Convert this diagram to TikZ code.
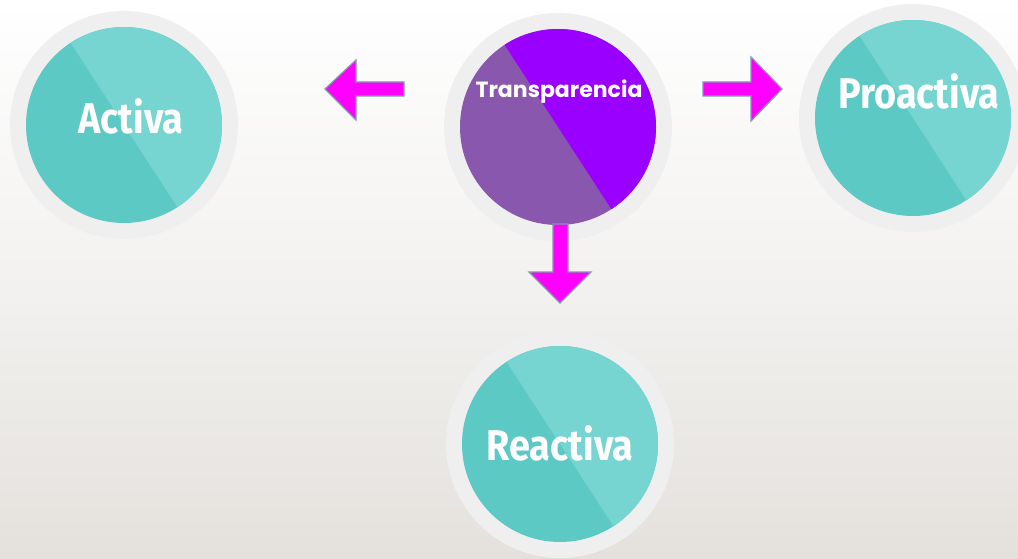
\documentclass[tikz,border=0pt]{standalone}
\usepackage{fontspec}
\newfontfamily\condfont[FakeStretch=0.88]{Fira Sans}
\newfontfamily\geofont{Poppins}
\definecolor{bgbot}{HTML}{E4E1DD}
\definecolor{ringc}{HTML}{EFEFEF}
\definecolor{tealdark}{HTML}{5CC9C4}
\definecolor{teallight}{HTML}{76D5D1}
\definecolor{purpdark}{HTML}{8A57AF}
\definecolor{purplight}{HTML}{9900FF}
\definecolor{arrowfill}{HTML}{FF00FF}
\definecolor{arrowline}{HTML}{7F9AAA}
\tikzset{
  ring/.style={circle, fill=ringc, minimum size=228pt, inner sep=0pt},
  blockarrow/.style={fill=arrowfill, draw=arrowline, line width=1.2pt, line join=miter},
  bigtxt/.style={text=white, font=\condfont\bfseries\fontsize{43}{43}\selectfont},
  smalltxt/.style={text=white, font=\geofont\bfseries\fontsize{22}{22}\selectfont},
}
\newcommand{\splitdisc}[4]{% center, radius, dark, light
  \fill[#3] (#1) circle[radius=#2];
  \begin{scope}
    \clip (#1) circle[radius=#2];
    \fill[#4] ($(#1)+(57:200)$) -- ($(#1)+(237:200)$) -- ++(-33:300) -- ++(57:400) -- cycle;
  \end{scope}
}
\usetikzlibrary{calc}
\begin{document}
\begin{tikzpicture}[x=1pt,y=-1pt]
\useasboundingbox (0,0) rectangle (1018,559);
\shade[top color=white, bottom color=bgbot, middle color=white!55!bgbot] (0,0) rectangle (1018,559);
% rings
\node[ring] (ra) at (124,125) {};
\node[ring] (rt) at (558,127) {};
\node[ring] (rp) at (913,118) {};
\node[ring] (rr) at (560,444) {};
% discs
\coordinate (ca) at (124,125);
\coordinate (ct) at (558,127);
\coordinate (cp) at (913,118);
\coordinate (cr) at (560,444);
\splitdisc{ca}{98}{tealdark}{teallight}
\splitdisc{ct}{98}{purpdark}{purplight}
\splitdisc{cp}{98}{tealdark}{teallight}
\splitdisc{cr}{98}{tealdark}{teallight}
% labels
\node[bigtxt] (ta) at (131,116) {Activa};
\node[bigtxt] (tp) at (919,91) {Proactiva};
\node[bigtxt] (tr) at (560,443) {Reactiva};
\node[smalltxt] (tt) at (559,92) {Transparencia};
% arrows
\draw[blockarrow] (404,82) -- (356,82) -- (356,60) -- (325,89) -- (356,120) -- (356,96) -- (404,96) -- cycle;
\draw[blockarrow] (703,82) -- (751,82) -- (751,57) -- (782,89) -- (751,121) -- (751,96) -- (703,96) -- cycle;
\draw[blockarrow] (553,224) -- (568,224) -- (568,272) -- (591,272) -- (560,303) -- (529,272) -- (553,272) -- cycle;
\end{tikzpicture}
\end{document}
